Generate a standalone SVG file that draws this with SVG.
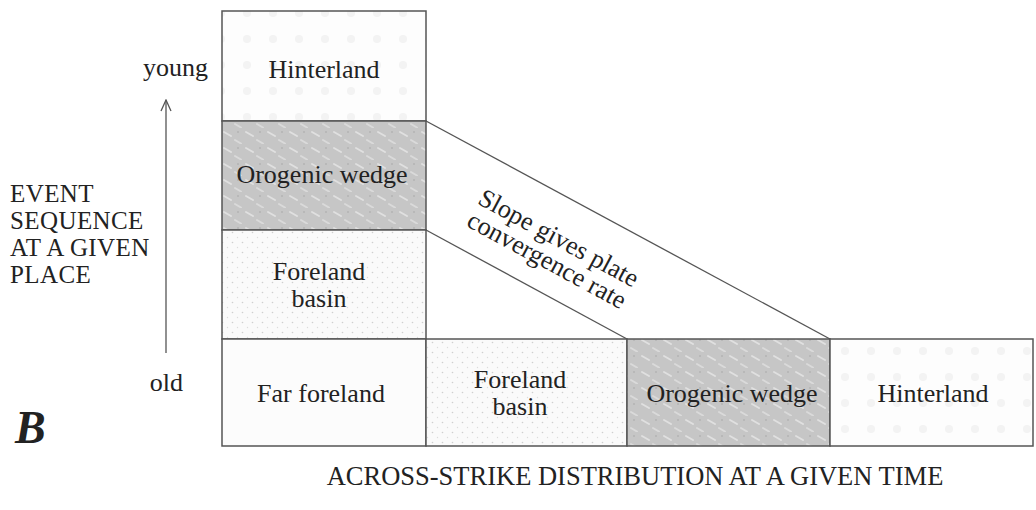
<svg xmlns="http://www.w3.org/2000/svg" width="1036" height="510" viewBox="0 0 1036 510">
  <style>
    text { font-family: "Liberation Serif", "Times New Roman", serif; fill: #222; }
    .lbl { font-size: 26px; text-anchor: middle; }
    .side { font-size: 25px; letter-spacing: 0.4px; }
    .cell { stroke: #555; stroke-width: 1.5; }
    .conn { stroke: #555; stroke-width: 1.3; fill: none; }
  </style>
  <defs>
    <pattern id="hint" width="26" height="26" patternUnits="userSpaceOnUse">
      <rect width="26" height="26" fill="#fdfdfd"/>
      <circle cx="13" cy="13" r="4" fill="#f3f3f3"/>
    </pattern>
    <pattern id="orog" width="22" height="16" patternUnits="userSpaceOnUse">
      <rect width="22" height="16" fill="#c6c6c6"/>
      <path d="M4 4 L11 8" stroke="#e0e0e0" stroke-width="2" stroke-linecap="round"/>
      <path d="M15 12 L21 15.5" stroke="#dadada" stroke-width="2" stroke-linecap="round"/>
      <circle cx="18" cy="4" r="1" fill="#b4b4b4"/>
    </pattern>
    <pattern id="fore" width="10" height="10" patternUnits="userSpaceOnUse">
      <rect width="10" height="10" fill="#fafafa"/>
      <circle cx="2.5" cy="2.5" r="0.8" fill="#cfcfcf"/>
      <circle cx="7.5" cy="7.5" r="0.7" fill="#dcdcdc"/>
    </pattern>
    <marker id="chev" markerWidth="14" markerHeight="14" refX="13" refY="7" orient="auto" markerUnits="userSpaceOnUse" viewBox="0 0 14 14">
      <path d="M2 2 L13 7 L2 12" fill="none" stroke="#555" stroke-width="1.3"/>
    </marker>
  </defs>

  <rect width="1036" height="510" fill="#ffffff"/>

  <!-- Vertical column: event sequence at a given place -->
  <g id="col-hinterland">
    <rect class="cell" x="222" y="11" width="204" height="110" fill="url(#hint)"/>
    <text class="lbl" x="324" y="78">Hinterland</text>
  </g>
  <g id="col-orogenic-wedge">
    <rect class="cell" x="222" y="121" width="204" height="109" fill="url(#orog)"/>
    <text class="lbl" x="322" y="183">Orogenic wedge</text>
  </g>
  <g id="col-foreland-basin">
    <rect class="cell" x="222" y="230" width="204" height="109" fill="url(#fore)"/>
    <text class="lbl" x="319" y="280">Foreland</text>
    <text class="lbl" x="319" y="307">basin</text>
  </g>

  <!-- Horizontal row: across-strike distribution -->
  <g id="row-far-foreland">
    <rect class="cell" x="222" y="339" width="204" height="107" fill="#fcfcfc"/>
    <text class="lbl" x="321" y="402">Far foreland</text>
  </g>
  <g id="row-foreland-basin">
    <rect class="cell" x="426" y="339" width="201" height="107" fill="url(#fore)"/>
    <text class="lbl" x="520" y="388">Foreland</text>
    <text class="lbl" x="520" y="415">basin</text>
  </g>
  <g id="row-orogenic-wedge">
    <rect class="cell" x="627" y="339" width="203" height="107" fill="url(#orog)"/>
    <text class="lbl" x="732" y="402">Orogenic wedge</text>
  </g>
  <g id="row-hinterland">
    <rect class="cell" x="830" y="339" width="203" height="107" fill="url(#hint)"/>
    <text class="lbl" x="933" y="402">Hinterland</text>
  </g>

  <!-- Connectors -->
  <g id="connectors">
    <line class="conn" x1="426" y1="121" x2="830" y2="339"/>
    <line class="conn" x1="426" y1="230" x2="627" y2="339"/>
    <line class="conn" x1="166" y1="353" x2="166" y2="100" marker-end="url(#chev)"/>
  </g>

  <g id="slope-label" transform="translate(549,256) rotate(28.4)">
    <text class="lbl" x="0" y="-12">Slope gives plate</text>
    <text class="lbl" x="0" y="13">convergence rate</text>
  </g>

  <g id="axis-labels">
    <text x="208" y="76" text-anchor="end" style="font-size:26px">young</text>
    <text x="183" y="391" text-anchor="end" style="font-size:26px">old</text>
    <text class="side" x="10" y="202">EVENT</text>
    <text class="side" x="10" y="229">SEQUENCE</text>
    <text class="side" x="10" y="256">AT A GIVEN</text>
    <text class="side" x="10" y="283">PLACE</text>
    <text class="side" x="635" y="485" text-anchor="middle" style="font-size:26.5px;letter-spacing:0">ACROSS-STRIKE DISTRIBUTION AT A GIVEN TIME</text>
    <text x="15" y="443" style="font-size:46px;font-weight:bold;font-style:italic">B</text>
  </g>
</svg>
